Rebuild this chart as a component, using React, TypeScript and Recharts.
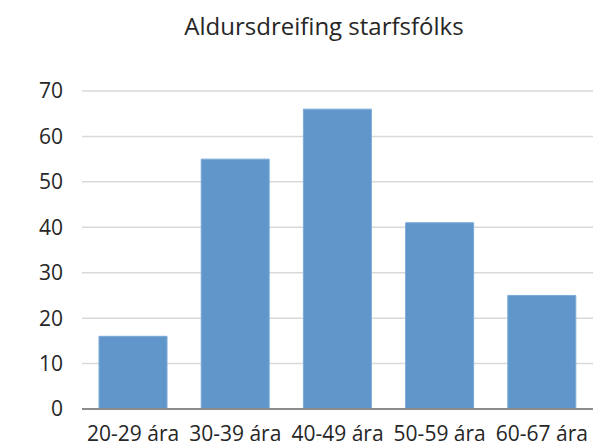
import React from "react";
import { BarChart, Bar, XAxis, YAxis, CartesianGrid } from "recharts";

const categories = ["20-29 ára", "30-39 ára", "40-49 ára", "50-59 ára", "60-67 ára"];
const counts = [16, 55, 66, 41, 25];
const yTicks = [0, 10, 20, 30, 40, 50, 60, 70];
const title = "Aldursdreifing starfsfólks";

const data = categories.map((c, i) => ({ name: c, value: counts[i] }));

const FONT = "'Open Sans', sans-serif";

export default function App() {
  return (
    <div style={{ position: "absolute", left: 0, top: 0, width: 595, height: 448, background: "#fff" }}>
      <BarChart
        width={595}
        height={448}
        data={data}
        margin={{ top: 91, right: 2, bottom: 9, left: 0 }}
        barCategoryGap={17}
      >
        <text x={324} y={35} textAnchor="middle" fontFamily={FONT} fontSize={24} fill="#262626">
          {title}
        </text>
        <CartesianGrid vertical={false} stroke="#d9d9d9" strokeWidth={1.5} />
        <XAxis
          dataKey="name"
          interval={0}
          tickLine={false}
          axisLine={{ stroke: "#8c8c8c", strokeWidth: 2 }}
          tickMargin={11}
          height={30}
          tick={{ fontFamily: FONT, fontSize: 21, fill: "#262626" }}
        />
        <YAxis
          domain={[0, 70]}
          ticks={yTicks}
          interval={0}
          width={82}
          tickLine={false}
          axisLine={false}
          tickMargin={13}
          tick={{ fontFamily: FONT, fontSize: 21, fill: "#262626" }}
        />
        <Bar dataKey="value" fill="#6096ca" stroke="#7aaad8" strokeWidth={1} isAnimationActive={false} />
      </BarChart>
    </div>
  );
}
